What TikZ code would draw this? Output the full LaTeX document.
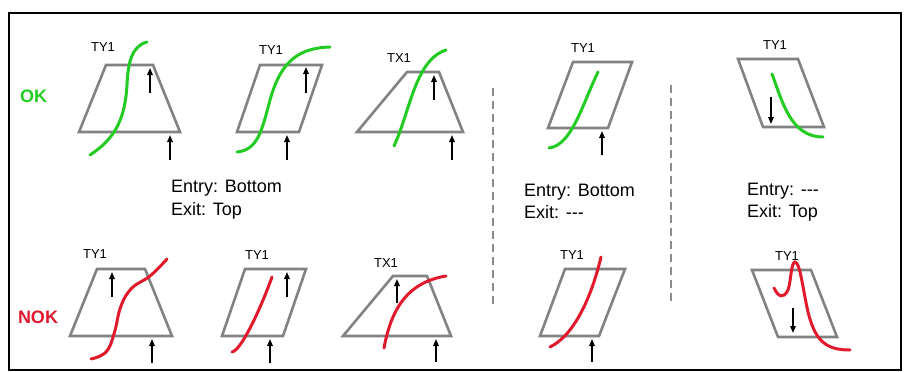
\documentclass[tikz,border=0pt]{standalone}
\usepackage{fontspec}
\setmainfont{Liberation Sans}
\usetikzlibrary{arrows.meta}
\definecolor{okgreen}{RGB}{34,204,34}
\definecolor{nokred}{RGB}{225,25,45}
\definecolor{shapegray}{RGB}{130,130,130}
\definecolor{dashgray}{RGB}{140,140,140}
\tikzset{
  shapebox/.style={draw=shapegray, line width=2.6pt, line join=miter},
  okcurve/.style={draw=okgreen, line width=3pt, line cap=round},
  nokcurve/.style={draw=nokred, line width=3pt, line cap=round},
  flowarrow/.style={draw=black, line width=1.6pt, -{Triangle[length=7pt,width=5.5pt]}},
  sep/.style={draw=dashgray, line width=1.8pt, dash pattern=on 8pt off 5pt},
  tlabel/.style={font=\fontsize{13}{15}\selectfont, inner sep=0pt},
  rowlabel/.style={font=\fontsize{18}{20}\selectfont\bfseries, inner sep=0pt},
  infotext/.style={font=\fontsize{18}{22}\selectfont, inner sep=0pt, anchor=base west}
}
\begin{document}
\begin{tikzpicture}[x=1pt,y=-1pt]
\fill[white] (0,0) rectangle (905,372);
\useasboundingbox (0,0) rectangle (905,372);
\draw[line width=2pt] (9,13) rectangle (901,370);

% row labels
\node[rowlabel, text=okgreen] (ok) at (33.5,96) {OK};
\node[rowlabel, text=nokred] (nok) at (38,317) {NOK};

% separators
\draw[sep] (493,88) -- (493,308);
\draw[sep] (671,85) -- (671,305);

% info texts
\node[infotext] (t1a) at (171,192) {Entry: Bottom};
\node[infotext] (t1b) at (171,215) {Exit: Top};
\node[infotext] (t2a) at (524,196) {Entry: Bottom};
\node[infotext] (t2b) at (524,218) {Exit: {-}{-}{-}};
\node[infotext] (t3a) at (747,195) {Entry: {-}{-}{-}};
\node[infotext] (t3b) at (747,217) {Exit: Top};

% ---------- OK row ----------
% P1
\draw[shapebox] (106,65) -- (153,65) -- (180,132) -- (79,132) -- cycle;
\node[tlabel] (l1) at (103,47) {TY1};
\draw[okcurve] (147,42) .. controls (132,46) and (128,62) .. (127,85) .. controls (125,118) and (116,138) .. (90,155);
\draw[flowarrow] (150,93) -- (150,68);
\draw[flowarrow] (170,160) -- (170,135);
% P2
\draw[shapebox] (260,65) -- (322,65) -- (299,132) -- (237,132) -- cycle;
\node[tlabel] (l2) at (271,50) {TY1};
\draw[okcurve] (237,152) .. controls (258,150) and (262,130) .. (270,100) .. controls (280,65) and (295,48) .. (330,47);
\draw[flowarrow] (306,93) -- (306,67);
\draw[flowarrow] (287,160) -- (287,135);
% P3
\draw[shapebox] (407,72) -- (439,72) -- (463,132) -- (357,132) -- cycle;
\node[tlabel] (l3) at (399,58) {TX1};
\draw[okcurve] (394,146) .. controls (410,112) and (415,60) .. (446,50);
\draw[flowarrow] (434,100) -- (434,75);
\draw[flowarrow] (452,160) -- (452,135);
% P4
\draw[shapebox] (573,62) -- (632,62) -- (608,128) -- (548,128) -- cycle;
\node[tlabel] (l4) at (583,48) {TY1};
\draw[okcurve] (598,72) .. controls (582,105) and (572,145) .. (549,148);
\draw[flowarrow] (602,155) -- (602,131);
% P5
\draw[shapebox] (738,59) -- (798,59) -- (824,127) -- (763,127) -- cycle;
\node[tlabel] (l5) at (775,45) {TY1};
\draw[okcurve] (772,74) .. controls (782,100) and (790,137) .. (823,137);
\draw[flowarrow] (771,97) -- (771,124);

% ---------- NOK row ----------
% P6
\draw[shapebox] (97,269) -- (145,269) -- (172,336) -- (70,336) -- cycle;
\node[tlabel] (l6) at (95,254.5) {TY1};
\draw[nokcurve] plot[smooth, tension=0.7] coordinates {(91,359) (106,352) (114,334) (121,306) (132,288) (150,276) (167,259)};
\draw[flowarrow] (112,297) -- (112,272);
\draw[flowarrow] (152,363) -- (152,339);
% P7
\draw[shapebox] (245,269) -- (306,269) -- (283,336) -- (222,336) -- cycle;
\node[tlabel] (l7) at (257,255) {TY1};
\draw[nokcurve] (232,352) .. controls (242,350) and (262,305) .. (272,277);
\draw[flowarrow] (287,297) -- (287,272);
\draw[flowarrow] (270,363) -- (270,339);
% P8
\draw[shapebox] (393,276) -- (427,276) -- (451,336) -- (343,336) -- cycle;
\node[tlabel] (l8) at (386,263) {TX1};
\draw[nokcurve] (384,348) .. controls (392,305) and (410,282) .. (446,276);
\draw[flowarrow] (397,303) -- (397,279);
\draw[flowarrow] (436,362) -- (436,339);
% P9
\draw[shapebox] (565,269) -- (625,269) -- (599,336) -- (540,336) -- cycle;
\node[tlabel] (l9) at (572,255) {TY1};
\draw[nokcurve] (550,347) .. controls (575,335) and (592,295) .. (601,257);
\draw[flowarrow] (592,362) -- (592,339);
% P10
\draw[shapebox] (752,270) -- (811,270) -- (837,337) -- (778,337) -- cycle;
\node[tlabel] (l10) at (787,256) {TY1};
\draw[nokcurve] (774,288) .. controls (778,296) and (783,300) .. (788,290) .. controls (791,282) and (791,262) .. (795,262) .. controls (800,262) and (803,290) .. (808,312) .. controls (815,340) and (825,350) .. (850,350);
\draw[flowarrow] (793,308) -- (793,333);
\end{tikzpicture}
\end{document}
